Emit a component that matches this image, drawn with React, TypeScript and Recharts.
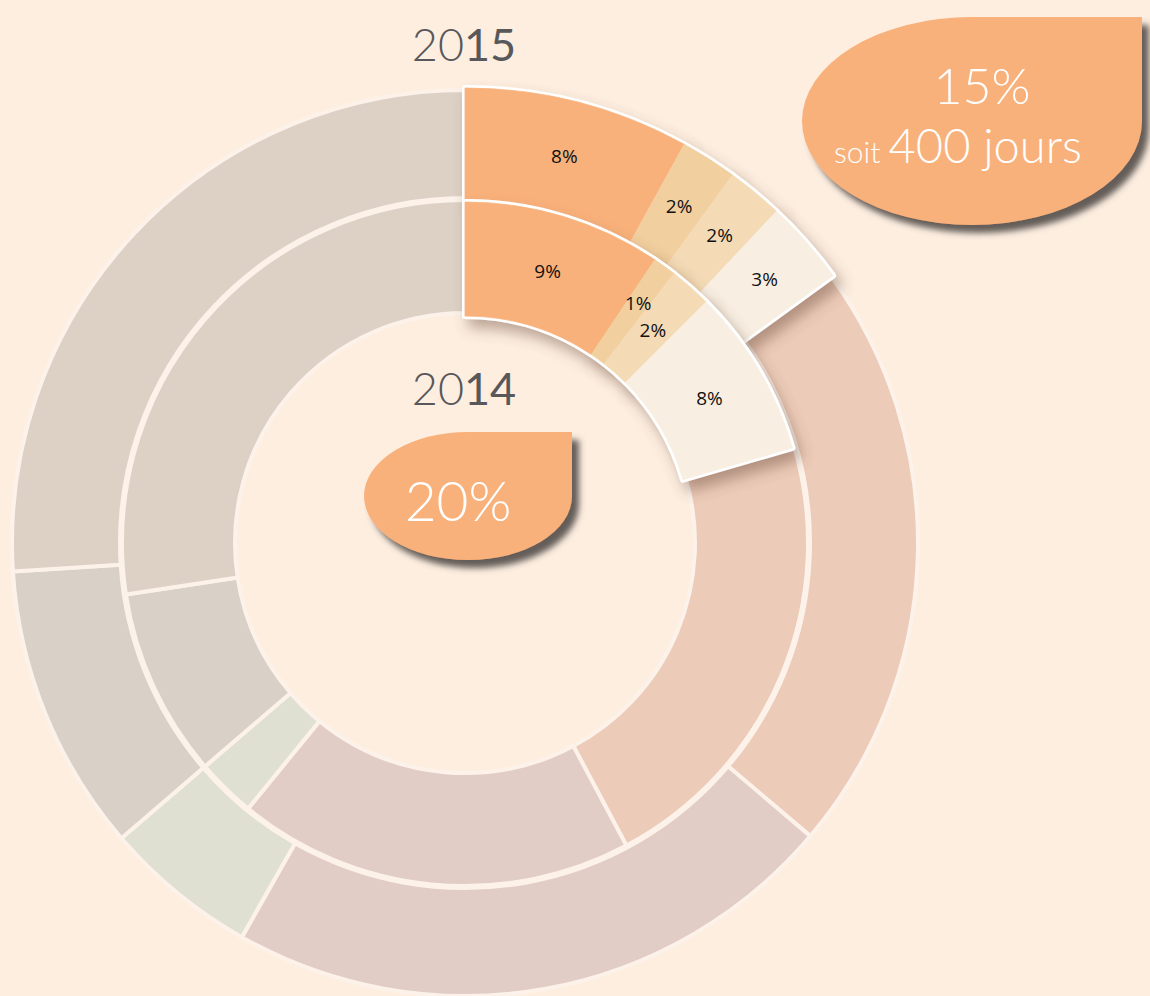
import { PieChart, Pie, Cell } from 'recharts';

// slice order is clockwise from 12 o'clock, same order in both rings
const sliceNames = ['Part 1', 'Part 2', 'Part 3', 'Part 4', 'Part 5', 'Part 6', 'Part 7', 'Part 8', 'Part 9'];
const values2015 = [8, 2, 2, 3, 21.2, 22, 5.5, 10.3, 26];
const values2014 = [9.4, 1.1, 2, 8, 21.7, 18.7, 2.8, 8.9, 27.4];
const sliceColors = ['#F9B17B', '#F1CF9F', '#F4DBB6', '#F8EFE2', '#ECCBB8', '#E2CCC6', '#DFDFD2', '#D9D1C8', '#DDD1C6'];
const highlightCount = 4;

const yearOuter = ['20', '15'];
const yearInner = ['20', '14'];
const bubble2015 = { big: '15%', small: 'soit', rest: '400 jours' };
const bubble2014 = '20%';

const W = 1150;
const H = 996;
const CX = 465;
const CY = 543;
const BG = '#FDEEE0';
const ORANGE = '#F9B17B';
const TITLE = '#58585B';

const data2015 = sliceNames.map((name, i) => ({ name, value: values2015[i] }));
const data2014 = sliceNames.map((name, i) => ({ name, value: values2014[i] }));

/**
 * Percent label, only drawn on the highlighted slices
 */
function sliceLabel(props: any) {
    const { cx, cy, midAngle, innerRadius, outerRadius, index, value } = props;
    if (index >= highlightCount) return null;
    let r = (innerRadius + outerRadius) / 2;
    if (value < 1.5) r += 12; // tiny slice: push out so it clears its neighbour
    const rad = (-midAngle * Math.PI) / 180;
    return (
        <text
            key={`lbl-${index}`}
            x={cx + r * Math.cos(rad)}
            y={cy + r * Math.sin(rad)}
            textAnchor="middle"
            dominantBaseline="central"
            fontFamily="'Open Sans', sans-serif"
            fontSize={19}
            fill="#111111"
        >
            {Math.round(value)}%
        </text>
    );
}

function baseCells() {
    return sliceNames.map((n, i) =>
        i < highlightCount ? (
            <Cell key={n} fill="none" stroke="none" />
        ) : (
            <Cell key={n} fill={sliceColors[i]} stroke="#FCF2EA" strokeWidth={4} />
        )
    );
}

// white outline + shadow under the highlighted group
function outlineCells() {
    return sliceNames.map((n, i) =>
        i < highlightCount ? (
            <Cell key={n} fill="#FFFFFF" stroke="#FFFFFF" strokeWidth={6} strokeLinejoin="round" filter="url(#sliceShadow)" />
        ) : (
            <Cell key={n} fill="none" stroke="none" />
        )
    );
}

// fills on top, so the seams between highlighted slices stay clean
function fillCells() {
    return sliceNames.map((n, i) =>
        i < highlightCount ? (
            <Cell key={n} fill={sliceColors[i]} stroke={sliceColors[i]} strokeWidth={0.8} />
        ) : (
            <Cell key={n} fill="none" stroke="none" />
        )
    );
}

export default function App() {
    const common = { dataKey: 'value', cx: CX, cy: CY, startAngle: 90, endAngle: -270, isAnimationActive: false };
    return (
        <div style={{ position: 'absolute', left: 0, top: 0, width: W, height: H, background: BG, overflow: 'hidden' }}>
            <svg width={0} height={0} style={{ position: 'absolute' }}>
                <defs>
                    <filter id="sliceShadow" x="-30%" y="-30%" width="160%" height="160%">
                        <feDropShadow dx={6} dy={9} stdDeviation={7} floodColor="#6B4A3A" floodOpacity={0.45} />
                    </filter>
                    <filter id="bubbleShadow" x="-20%" y="-20%" width="140%" height="140%">
                        <feDropShadow dx={7} dy={8} stdDeviation={3} floodColor="#4A4240" floodOpacity={0.85} />
                    </filter>
                </defs>
            </svg>

            <PieChart width={W} height={H} margin={{ top: 0, right: 0, bottom: 0, left: 0 }}>
                <Pie {...common} data={data2015} innerRadius={345} outerRadius={453}>
                    {baseCells()}
                </Pie>
                <Pie {...common} data={data2014} innerRadius={230} outerRadius={343}>
                    {baseCells()}
                </Pie>
                <Pie {...common} data={data2015} innerRadius={344} outerRadius={455}>
                    {outlineCells()}
                </Pie>
                <Pie {...common} data={data2015} innerRadius={344} outerRadius={455} label={sliceLabel} labelLine={false}>
                    {fillCells()}
                </Pie>
                <Pie {...common} data={data2014} innerRadius={227} outerRadius={341}>
                    {outlineCells()}
                </Pie>
                <Pie {...common} data={data2014} innerRadius={227} outerRadius={341} label={sliceLabel} labelLine={false}>
                    {fillCells()}
                </Pie>
            </PieChart>

            <svg width={W} height={H} style={{ position: 'absolute', left: 0, top: 0, pointerEvents: 'none' }}>
                {/* year titles */}
                <text x={464} y={61} textAnchor="middle" fontFamily="Lato, sans-serif" fontSize={45} fill={TITLE}>
                    <tspan fontWeight={300}>{yearOuter[0]}</tspan>
                    <tspan fontWeight={400}>{yearOuter[1]}</tspan>
                </text>
                <text x={464} y={405} textAnchor="middle" fontFamily="Lato, sans-serif" fontSize={45} fill={TITLE}>
                    <tspan fontWeight={300}>{yearInner[0]}</tspan>
                    <tspan fontWeight={400}>{yearInner[1]}</tspan>
                </text>

                {/* 2015 bubble */}
                <path
                    d="M 972 17 L 1142 17 L 1142 121 A 170 104 0 0 1 972 225 A 170 104 0 0 1 802 121 A 170 104 0 0 1 972 17 Z"
                    fill={ORANGE}
                    filter="url(#bubbleShadow)"
                />
                <text x={982} y={104} textAnchor="middle" fontFamily="Lato, sans-serif" fontWeight={300} fontSize={50} fill="#FFFFFF">
                    {bubble2015.big}
                </text>
                <text x={958} y={163} textAnchor="middle" fontFamily="Lato, sans-serif" fontWeight={300} fill="#FFFFFF">
                    <tspan fontSize={30}>{bubble2015.small} </tspan>
                    <tspan fontSize={47}>{bubble2015.rest}</tspan>
                </text>

                {/* 2014 bubble */}
                <path
                    d="M 468 432 L 572 432 L 572 496 A 104 64 0 0 1 468 560 A 104 64 0 0 1 364 496 A 104 64 0 0 1 468 432 Z"
                    fill={ORANGE}
                    filter="url(#bubbleShadow)"
                />
                <text x={458} y={521} textAnchor="middle" fontFamily="Lato, sans-serif" fontWeight={300} fontSize={55} fill="#FFFFFF">
                    {bubble2014}
                </text>
            </svg>
        </div>
    );
}
